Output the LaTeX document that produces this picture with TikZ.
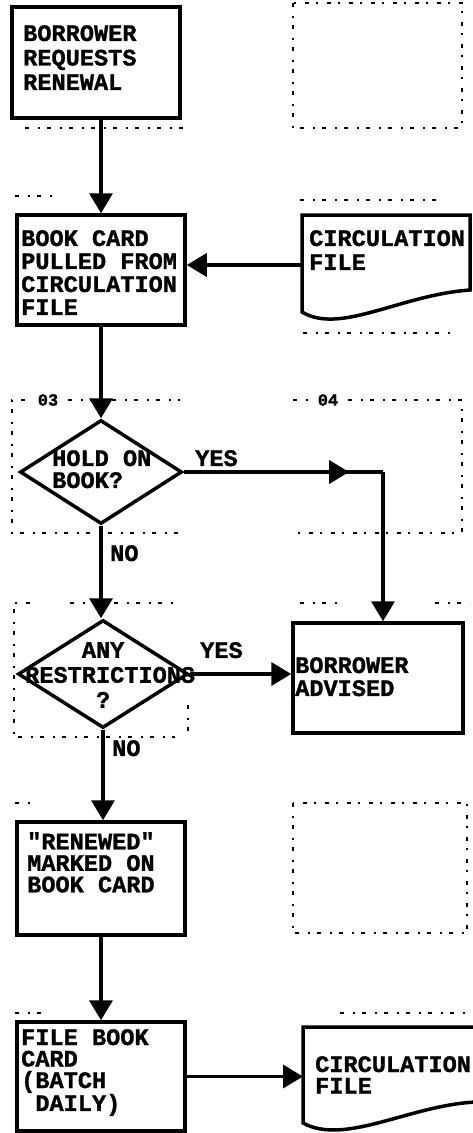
\documentclass[tikz,border=0pt]{standalone}
\usepackage{fontspec}
\newfontfamily\tf{Liberation Mono Bold}[FakeBold=1.2]
\usetikzlibrary{arrows.meta,shapes.geometric,calc}
\tikzset{
  box/.style={draw, line width=3.5pt, inner sep=0pt},
  dia/.style={diamond, draw, line width=3.5pt, inner sep=0pt},
  docbox/.style={draw=none, inner sep=0pt, outer sep=0pt},
  ln/.style={line width=3.5pt},
  arr/.style={line width=3.5pt, -{Triangle[width=23pt,length=20pt]}},
  txt/.style={font=\tf\fontsize{23.6}{#1}\selectfont, anchor=north west, inner sep=0pt, align=left},
  txt/.default=23,
  small/.style={font=\tf\fontsize{17}{17}\selectfont, inner sep=0pt},
  dot/.style={line width=1.5pt, dash pattern=on 4pt off 9pt on 2pt off 7pt},
}
\begin{document}
\begin{tikzpicture}[x=1pt,y=-1pt]
\useasboundingbox[fill=white] (0,0) rectangle (473,1133);

% dotted frames (faint remains)
\draw[dot] (293,3) rectangle (462,128);
\draw[dot] (25,128) -- (185,128);
\draw[dot] (15,196) -- (55,196);
\draw[dot] (300,200) -- (440,200);
\draw[dot] (303,333) -- (455,333);
\draw[dot] (25,400) -- (12,400) -- (12,533) -- (180,533);
\draw[dot] (68,400) -- (180,400);
\node[small] (l03) at (48,400) {03};
\draw[dot] (293,400) -- (310,400);
\node[small] (l04) at (328,400) {04};
\draw[dot] (348,400) -- (462,400) -- (462,533) -- (295,533);
\draw[dot] (30,603) -- (14,603) -- (14,737) -- (175,737);
\draw[dot] (70,603) -- (175,603);
\draw[dot] (188,705) -- (188,735);
\draw[dot] (300,603) -- (340,603);
\draw[dot] (435,603) -- (470,603);
\draw[dot] (15,803) -- (35,803);
\draw[dot] (293,803) rectangle (467,933);
\draw[dot] (15,1013) -- (45,1013);
\draw[dot] (340,1013) -- (465,1013);

% nodes
\node[box, minimum width=168pt, minimum height=111pt] (b1) at (96,62.5) {};
\node[box, minimum width=168pt, minimum height=110pt] (b2) at (101,270) {};
\node[docbox, minimum width=168pt, minimum height=100pt] (d1) at (386,265) {};
\node[dia, minimum width=162pt, minimum height=104pt] (dia1) at (101,472) {};
\node[dia, minimum width=170pt, minimum height=108pt] (dia2) at (103,674) {};
\node[box, minimum width=170pt, minimum height=110pt] (adv) at (378,678) {};
\node[box, minimum width=168pt, minimum height=113pt] (ren) at (101,878.5) {};
\node[box, minimum width=168pt, minimum height=109pt] (fil) at (101,1076.5) {};
\node[docbox, minimum width=173pt, minimum height=100pt] (d2) at (389.5,1077) {};

% document outlines
\draw[ln] ($(d1.south west)+(0,-3)$) -- (d1.north west) -- (d1.north east)
  -- ($(d1.north east)+(0,75)$) .. controls +(-70,5) and +(38,23) .. ($(d1.south west)+(0,-3)$) -- cycle;
\draw[ln] ($(d2.south west)+(0,-4)$) -- (d2.north west) -- (d2.north east)
  -- ($(d2.north east)+(0,75)$) .. controls +(-66,3) and +(42,23) .. ($(d2.south west)+(0,-4)$) -- cycle;

% texts
\node[txt=24.5] (t1) at (23,25) {BORROWER\\REQUESTS\\RENEWAL};
\node[txt=23] (t2) at (21,230) {BOOK CARD\\PULLED FROM\\CIRCULATION\\FILE};
\node[txt=24] (t3) at (309,230) {CIRCULATION\\FILE};
\node[txt=22] (t4) at (52,450) {HOLD ON\\BOOK?};
\node[txt=25] (t5) at (25,642) {\phantom{XXXX}ANY\\RESTRICTIONS\\\phantom{XXXXX}?};
\node[txt=23] (t6) at (295,657) {BORROWER\\ADVISED};
\node[txt=21.5] (t7) at (27,832) {"RENEWED"\\MARKED ON\\BOOK CARD};
\node[txt=21.5] (t8) at (21,1029) {FILE BOOK\\CARD\\(BATCH\\\phantom{X}DAILY)};
\node[txt=21.5] (t9) at (315,1056) {CIRCULATION\\FILE};
\node[txt] (y1) at (195,450) {YES};
\node[txt] (n1) at (110,545) {NO};
\node[txt] (y2) at (200,642) {YES};
\node[txt] (n2) at (112,740) {NO};

% connectors
\draw[arr] (b1.south -| b2.north) -- (b2.north);
\draw[arr] (d1.west) -- (d1.west -| b2.east);
\draw[arr] (b2.south) -- (b2.south |- dia1.north);
\coordinate (c1) at ($(adv.north |- dia1.east)+(5,0)$);
\draw[ln] (dia1.east) -- (c1);
\draw[arr] (dia1.east) -- ($(dia1.east)!0.83!(c1)$);
\draw[arr] (c1) -- (c1 |- adv.north);
\draw[arr] (dia1.south) -- (dia2.north -| dia1.south);
\draw[arr] (dia2.east) -- (dia2.east -| adv.west);
\draw[arr] (dia2.south) -- (ren.north -| dia2.south);
\draw[arr] (ren.south) -- (fil.north);
\draw[arr] (fil.east) -- (fil.east -| d2.west);
\end{tikzpicture}
\end{document}
